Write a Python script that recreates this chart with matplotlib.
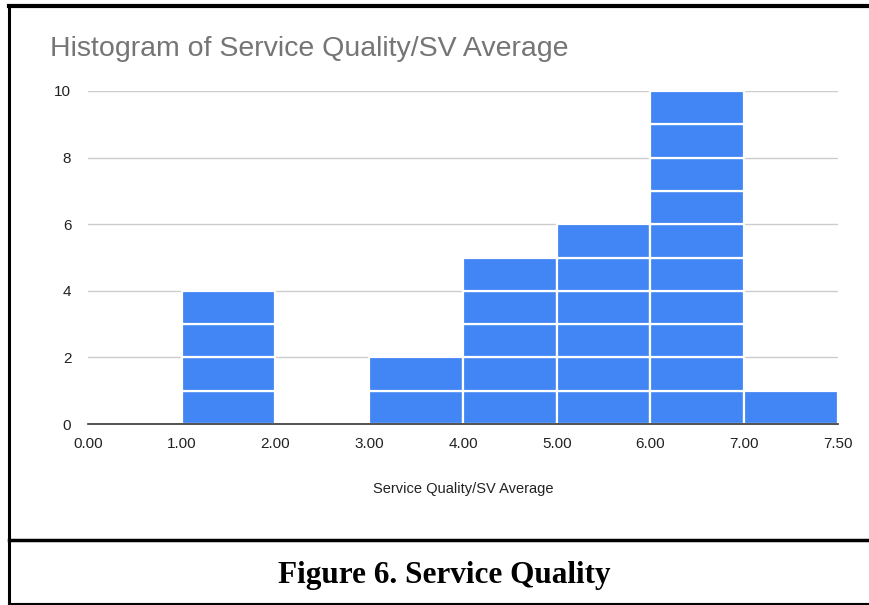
import numpy as np
import matplotlib.pyplot as plt

# bin edges as shown on the axis, and how many responses fell in each bin
edge_labels = ['0.00', '1.00', '2.00', '3.00', '4.00', '5.00', '6.00', '7.00', '7.50']
counts = [0, 4, 0, 2, 5, 6, 10, 1]
yticks = [0, 2, 4, 6, 8, 10]

blue = '#4285f4'
grid = '#cccccc'

fig = plt.figure(figsize=(8.7, 6.05), dpi=100)
W, H = 870, 605

ax = fig.add_axes([88 / W, 1 - 424 / H, 750 / W, (424 - 91) / H])
ax.set_xlim(0, len(counts))
ax.set_ylim(0, 10)

# each bar is a stack of unit blocks (item dividers)
for i, c in enumerate(counts):
    for k in range(c):
        ax.bar(i + 0.5, 1, bottom=k, width=1, color=blue, edgecolor='white',
               linewidth=1.6, zorder=3)

for y in yticks[1:]:
    ax.axhline(y, color=grid, lw=1, zorder=1)
ax.axhline(0, color='#333333', lw=1.2, zorder=4, clip_on=False)

for s in ax.spines.values():
    s.set_visible(False)
ax.set_xticks(np.arange(len(edge_labels)))
ax.set_xticklabels(edge_labels)
ax.set_yticks(yticks)
ax.tick_params(axis='both', length=0, labelsize=11, colors='#222222')
ax.tick_params(axis='x', pad=9)
ax.tick_params(axis='y', pad=12)
for t in ax.get_xticklabels() + ax.get_yticklabels():
    t.set_family('Liberation Sans')
ax.set_xlabel('Service Quality/SV Average', family='Liberation Sans',
              fontsize=10.5, color='#222222', labelpad=23)

fig.text(50 / W, 1 - 49 / H, 'Histogram of Service Quality/SV Average',
         family='Liberation Sans', fontsize=20.5, color='#757575', va='center')

# frame and caption cell
frame = dict(color='black', transform=fig.transFigure, clip_on=False)
fig.add_artist(plt.Line2D([9 / W, 1], [1 - 6 / H] * 2, lw=3, **frame))
fig.add_artist(plt.Line2D([9 / W] * 2, [1 - 6 / H, 1 - 604 / H], lw=2.2, **frame))
fig.add_artist(plt.Line2D([9 / W, 1], [1 - 540 / H] * 2, lw=2.5, **frame))
fig.add_artist(plt.Line2D([9 / W, 1], [1 - 603.5 / H] * 2, lw=1.5, **frame))

fig.text(444 / W, 1 - 575 / H, 'Figure 6. Service Quality', family='Liberation Serif',
         fontweight='bold', fontsize=22.5, ha='center', va='center')

fig.savefig('out.png', dpi=100)
